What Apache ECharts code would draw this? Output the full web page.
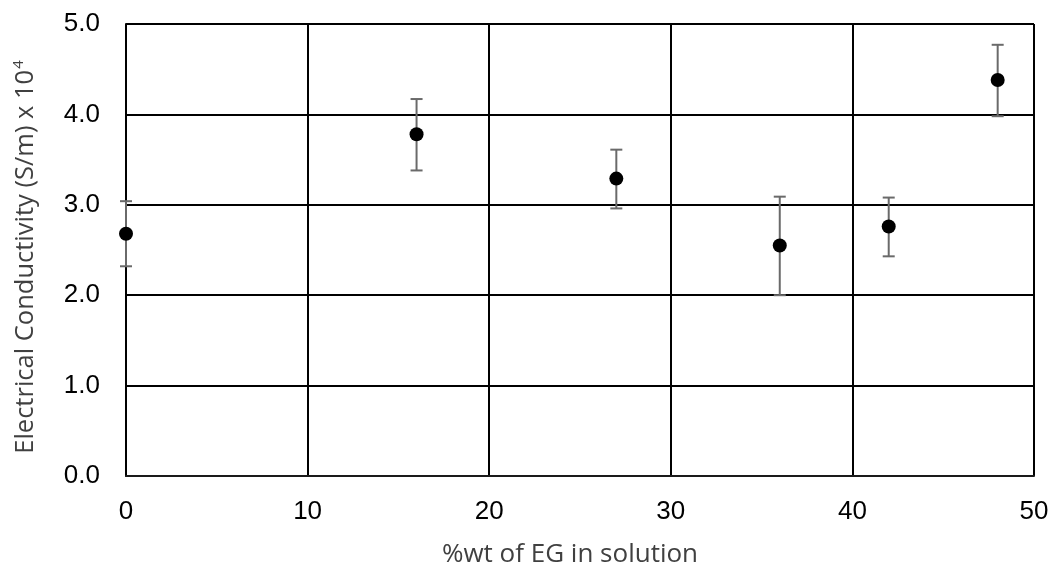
<!DOCTYPE html>
<html>
<head>
<meta charset="utf-8">
<style>html,body{margin:0;padding:0;background:#fff}#c{width:1059px;height:570px}</style>
<script src="https://cdn.jsdelivr.net/npm/echarts@6/dist/echarts.min.js"></script>
</head>
<body>
<div id="c"></div>
<script>
const egPercent = [0, 16, 27, 36, 42, 48];
const conductivity = [2.68, 3.78, 3.29, 2.55, 2.76, 4.38];
const errLow = [2.32, 3.38, 2.96, 2.00, 2.43, 3.98];
const errHigh = [3.04, 4.17, 3.61, 3.09, 3.08, 4.77];
const xTicks = [0, 10, 20, 30, 40, 50];
const yTicks = [0, 1, 2, 3, 4, 5];

const chart = echarts.init(document.getElementById('c'), null, {renderer: 'canvas'});
const points = egPercent.map((x, i) => [x, conductivity[i]]);
const bars = egPercent.map((x, i) => [x, errLow[i], errHigh[i]]);
const titleFont = 'Open Sans';

chart.setOption({
  animation: false,
  backgroundColor: '#fff',
  grid: {left: 126, right: 25, top: 24, bottom: 94, containLabel: false, outerBoundsMode: 'none'},
  xAxis: {
    type: 'value', min: xTicks[0], max: xTicks[xTicks.length - 1], interval: 10,
    name: '%wt of EG in solution', nameLocation: 'middle', nameGap: 66,
    nameTextStyle: {fontFamily: titleFont, fontSize: 26, color: '#404040', padding: [0, 20, 0, 0]},
    axisLine: {show: true, onZero: false, lineStyle: {color: '#1a1a1a', width: 2}},
    axisTick: {show: false},
    axisLabel: {fontFamily: 'Liberation Sans', fontSize: 26, color: '#000', margin: 23},
    splitLine: {show: true, lineStyle: {color: '#000', width: 2}}
  },
  yAxis: {
    type: 'value', min: yTicks[0], max: yTicks[yTicks.length - 1], interval: 1,
    name: '{n|Electrical Conductivity (S/m) x 10}{s|4}', nameLocation: 'middle', nameGap: 86, nameRotate: 90,
    nameTextStyle: {
      padding: [0, 14, 0, 0],
      rich: {
        n: {fontFamily: titleFont, fontSize: 25.5, color: '#404040'},
        s: {fontFamily: titleFont, fontSize: 15, color: '#404040', verticalAlign: 'top', padding: [0, 0, 14, 1]}
      }
    },
    axisLine: {show: true, lineStyle: {color: '#000', width: 2}},
    axisTick: {show: false},
    axisLabel: {fontFamily: 'Liberation Sans', fontSize: 26, color: '#000', margin: 26,
                formatter: v => v.toFixed(1)},
    splitLine: {show: true, lineStyle: {color: '#000', width: 2}}
  },
  series: [
    {
      type: 'custom',
      z: 2,
      data: bars,
      renderItem: function (params, api) {
        const x = api.value(0);
        const lo = api.coord([x, api.value(1)]);
        const hi = api.coord([x, api.value(2)]);
        const cap = 6;
        const style = {stroke: '#6a6a6a', lineWidth: 2};
        return {
          type: 'group',
          children: [
            {type: 'line', shape: {x1: lo[0], y1: lo[1], x2: hi[0], y2: hi[1]}, style: style},
            {type: 'line', shape: {x1: lo[0] - cap, y1: lo[1], x2: lo[0] + cap, y2: lo[1]}, style: style},
            {type: 'line', shape: {x1: hi[0] - cap, y1: hi[1], x2: hi[0] + cap, y2: hi[1]}, style: style}
          ]
        };
      }
    },
    {
      type: 'scatter',
      z: 3,
      data: points,
      symbol: 'circle',
      symbolSize: 14,
      itemStyle: {color: '#000', opacity: 1}
    }
  ]
});
</script>
</body>
</html>
